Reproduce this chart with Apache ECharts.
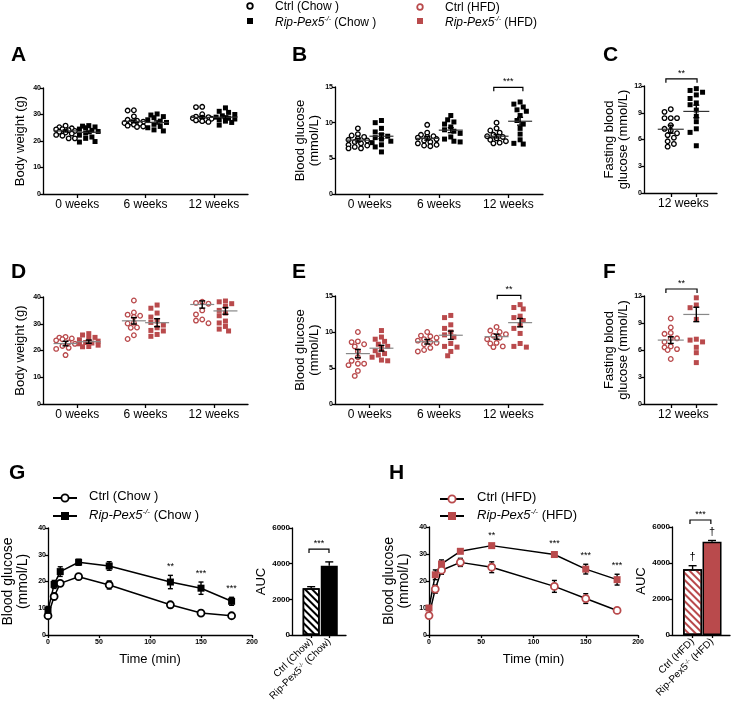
<!DOCTYPE html>
<html>
<head>
<meta charset="utf-8">
<script src="https://cdn.jsdelivr.net/npm/echarts@6/dist/echarts.min.js"></script>
<style>
* { padding: 0; margin: 0; }
#main { width: 731px; height: 706px; background: #fff; }
</style>
</head>
<body>
<div id="main"></div>
<script>
const FONT = 'Liberation Sans, Arial, sans-serif';
const RED = '#b94a4c';

// ---- data ----
const weekLabels = ['0 weeks', '6 weeks', '12 weeks'];

// A: body weight, chow
const bwCtrlChow = [
  [25.8, 25.2, 24.8, 24.5, 24.4, 24.1, 23.8, 23.5, 23.2, 22.8, 22.3, 22.0, 21.0, 21.0],
  [31.6, 31.5, 29.3, 28.0, 27.7, 27.3, 27.0, 26.8, 26.5, 26.2, 25.8, 25.5, 25.3],
  [32.9, 32.8, 30.1, 29.2, 29.0, 28.8, 28.6, 28.4, 28.2, 28.0, 27.8, 27.5, 27.2]
];
const bwKoChow = [
  [25.8, 25.6, 25.3, 25.0, 24.5, 24.0, 23.6, 23.0, 22.2, 21.5, 21.0, 19.8, 19.6],
  [30.2, 29.8, 29.2, 28.8, 28.0, 27.5, 27.0, 26.3, 25.5, 25.0, 24.2, 23.8],
  [32.5, 31.2, 30.8, 30.0, 29.5, 29.0, 28.6, 28.3, 28.0, 27.5, 27.0, 26.0]
];
const bwCtrlChowMean = [23.8, 27.4, 28.9];
const bwCtrlChowSem = [0.4, 0.5, 0.4];
const bwKoChowMean = [23.3, 27.0, 29.0];
const bwKoChowSem = [0.5, 0.6, 0.5];

// B: blood glucose, chow
const bgCtrlChow = [
  [9.2, 8.4, 8.2, 8.0, 7.8, 7.6, 7.5, 7.3, 7.1, 6.9, 6.8, 6.6, 6.4, 6.4],
  [9.7, 8.6, 8.3, 8.1, 8.0, 7.9, 7.7, 7.5, 7.3, 7.1, 6.9, 6.8, 6.7],
  [10.0, 9.2, 8.9, 8.6, 8.3, 8.1, 8.0, 7.8, 7.6, 7.4, 7.2, 7.1]
];
const bgKoChow = [
  [10.3, 10.0, 9.2, 8.7, 8.3, 8.1, 7.9, 7.7, 7.4, 7.2, 6.9, 6.6, 5.9],
  [11.0, 10.4, 10.1, 9.8, 9.4, 9.0, 8.8, 8.5, 8.0, 7.7, 7.4, 7.3],
  [12.9, 12.6, 12.2, 11.8, 11.6, 11.0, 10.3, 9.8, 9.2, 8.4, 7.6, 7.1, 7.0]
];
const bgCtrlChowMean = [7.55, 7.8, 8.1];
const bgCtrlChowSem = [0.25, 0.25, 0.25];
const bgKoChowMean = [8.1, 8.95, 10.2];
const bgKoChowSem = [0.35, 0.35, 0.55];

// C: fasting blood glucose, chow, 12 weeks
const fbgCtrlChow = [9.4, 9.1, 8.4, 8.4, 8.4, 7.6, 7.2, 7.0, 6.7, 6.5, 6.2, 5.8, 5.5, 5.2];
const fbgKoChow = [11.7, 11.5, 11.3, 11.0, 10.6, 10.1, 9.9, 9.3, 8.6, 8.0, 7.2, 6.8, 5.3];
const fbgChowMean = [7.15, 9.15];
const fbgChowSem = [0.45, 0.7];

// D: body weight, HFD
const bwCtrlHfd = [
  [25.1, 24.8, 24.5, 24.2, 23.8, 23.0, 22.5, 21.7, 21.0, 20.6, 18.3],
  [38.7, 34.2, 33.4, 33.0, 32.6, 30.4, 30.1, 28.6, 28.5, 25.7, 24.3],
  [38.2, 37.8, 37.5, 35.0, 33.5, 31.6, 31.2, 30.2]
];
const bwKoHfd = [
  [26.3, 25.8, 24.9, 24.5, 24.0, 23.5, 23.0, 22.8, 22.5, 22.0, 21.5, 21.4],
  [37.0, 35.8, 34.0, 32.5, 31.0, 30.5, 29.5, 28.5, 27.5, 27.3, 26.0, 25.3],
  [38.5, 38.2, 37.5, 36.5, 35.0, 34.0, 33.0, 31.0, 30.3, 29.0, 28.0, 27.3]
];
const bwCtrlHfdMean = [22.6, 31.1, 37.2];
const bwCtrlHfdSem = [0.85, 1.2, 1.35];
const bwKoHfdMean = [23.3, 30.4, 34.8];
const bwKoHfdSem = [0.6, 1.5, 1.25];

// E: blood glucose, HFD
const bgCtrlHfd = [
  [10.0, 8.7, 8.6, 8.3, 8.0, 7.3, 6.5, 6.0, 5.6, 5.6, 5.4, 4.6, 3.9],
  [10.0, 9.5, 9.4, 9.2, 9.0, 8.8, 8.6, 8.5, 8.3, 7.8, 7.5, 7.3],
  [10.7, 10.2, 10.0, 9.7, 9.5, 9.2, 9.0, 8.5, 8.4, 8.0, 7.9]
];
const bgKoHfd = [
  [10.2, 9.3, 9.0, 8.7, 8.3, 8.0, 7.7, 7.4, 7.0, 6.8, 6.5, 6.1, 6.0],
  [12.3, 12.0, 11.0, 10.5, 10.0, 9.6, 9.3, 8.4, 8.0, 7.9, 7.3, 6.7],
  [13.8, 13.4, 13.2, 12.2, 12.0, 11.6, 11.0, 10.5, 9.8, 8.4, 8.0, 7.9]
];
const bgCtrlHfdMean = [7.0, 8.65, 9.35];
const bgCtrlHfdSem = [0.58, 0.32, 0.35];
const bgKoHfdMean = [7.75, 9.55, 11.3];
const bgKoHfdSem = [0.4, 0.58, 0.58];

// F: fasting blood glucose, HFD
const fbgCtrlHfd = [9.5, 8.5, 7.9, 7.8, 7.3, 7.3, 6.9, 6.4, 6.3, 6.1, 6.0, 5.0];
const fbgKoHfd = [11.8, 11.0, 10.7, 9.4, 7.2, 7.1, 6.9, 6.3, 5.7, 4.6];
const fbgHfdMean = [7.1, 9.95];
const fbgHfdSem = [0.37, 0.8];

// G / H: GTT
const gttTimes = [0, 6, 12, 30, 60, 120, 150, 180];
const gttCtrlChow = [7.2, 14.4, 19.3, 21.8, 18.7, 11.3, 8.2, 7.2];
const gttCtrlChowSem = [0.4, 1.2, 1.0, 1.0, 1.5, 0.6, 0.4, 0.3];
const gttKoChow = [9.2, 18.9, 23.7, 27.2, 25.8, 19.8, 17.5, 12.6];
const gttKoChowSem = [1.5, 1.5, 1.8, 1.1, 1.6, 2.5, 2.3, 1.5];
const gttCtrlHfd = [7.2, 17.0, 24.0, 26.9, 25.1, 18.0, 13.5, 9.1];
const gttCtrlHfdSem = [0.4, 1.5, 1.5, 1.5, 2.0, 2.2, 1.8, 0.5];
const gttKoHfd = [10.0, 22.3, 26.3, 31.0, 33.1, 29.8, 24.4, 20.5];
const gttKoHfdSem = [0.8, 1.8, 1.5, 0.5, 0.5, 0.8, 1.8, 2.0];
const sigChow = [[120, '**'], [150, '***'], [180, '***']];
const sigHfd = [[60, '**'], [120, '***'], [150, '***'], [180, '***']];

// AUC
const aucChow = [2620, 3880];
const aucChowSem = [90, 220];
const aucHfd = [3650, 5180];
const aucHfdSem = [200, 70];

// ---- layout ----
const grids = [
  {left: 43, top: 88, width: 205, height: 106},   // A
  {left: 335, top: 87, width: 208, height: 107},  // B
  {left: 644, top: 86, width: 73, height: 107},   // C
  {left: 43, top: 297, width: 205, height: 107},  // D
  {left: 335, top: 296, width: 208, height: 108}, // E
  {left: 644, top: 296, width: 73, height: 108},  // F
  {left: 43, top: 528, width: 209, height: 107},  // G
  {left: 292, top: 528, width: 54, height: 107},  // G AUC
  {left: 429, top: 527, width: 209, height: 108}, // H
  {left: 672, top: 527, width: 58, height: 108}   // H AUC
];
const ctrlPos = [0.33, 1.33, 2.33];
const koPos = [0.67, 1.67, 2.67];
const aucPos = [0.355, 0.69];

const axLine = {show: true, onZero: false, lineStyle: {color: '#000', width: 1.3}};
const tickStyle = {color: '#000', width: 1.3};

function yAx(gi, max, interval, name, gap, size) {
  return {
    type: 'value', gridIndex: gi, min: 0, max: max, interval: interval,
    axisLine: axLine,
    axisTick: {show: true, length: 3, lineStyle: tickStyle},
    axisLabel: {fontSize: gi === 7 || gi === 9 ? 8 : 7, fontWeight: 'bold', color: '#000', margin: 2,
      fontFamily: FONT, formatter: v => String(v)},
    splitLine: {show: false},
    name: name, nameLocation: 'middle', nameGap: gap, nameRotate: 90,
    nameTextStyle: {fontSize: size || 13, color: '#000', fontFamily: FONT, lineHeight: size ? size + 1 : 14}
  };
}

function xCat(gi, ticks, labels, fmt) {
  return {
    type: 'value', gridIndex: gi, min: 0, max: 3,
    axisLine: axLine,
    axisTick: {show: true, length: 4, customValues: ticks, lineStyle: tickStyle},
    axisLabel: {customValues: labels, formatter: fmt, fontSize: 12, color: '#000', margin: 5, fontFamily: FONT},
    splitLine: {show: false}
  };
}

function xTime(gi) {
  return {
    type: 'value', gridIndex: gi, min: 0, max: 200, interval: 50,
    axisLine: axLine,
    axisTick: {show: true, length: 3, lineStyle: tickStyle},
    axisLabel: {fontSize: 7, fontWeight: 'bold', color: '#000', margin: 4, fontFamily: FONT},
    splitLine: {show: false},
    name: 'Time (min)', nameLocation: 'middle', nameGap: 18,
    nameTextStyle: {fontSize: 13, color: '#000', fontFamily: FONT}
  };
}

const supRich = {
  n: {fontSize: 10, color: '#000', fontFamily: FONT},
  s: {fontSize: 6, color: '#000', fontFamily: FONT, verticalAlign: 'top', lineHeight: 8}
};

function xAuc(gi, diet) {
  return {
    type: 'value', gridIndex: gi, min: 0, max: 1,
    axisLine: axLine,
    axisTick: {show: true, length: 3, customValues: aucPos, lineStyle: tickStyle},
    axisLabel: {
      customValues: aucPos, rotate: 45, margin: 5, rich: supRich,
      formatter: v => v < 0.5 ? '{n|Ctrl (' + diet + ')}' : '{n|Rip-Pex5}{s|-/-}{n| (' + diet + ')}'
    },
    splitLine: {show: false}
  };
}

// deterministic, bounded beeswarm spread (px) around a group centre
function swarm(vals, center, gi, ymax, d, maxOff) {
  const g = grids[gi];
  const pxX = g.width / 3, pxY = g.height / ymax;
  const placed = [], out = [];
  const order = vals.map((v, i) => i).sort((a, b) => vals[b] - vals[a]);
  const step = d * 0.6;
  const n = Math.floor(maxOff / step);
  for (const i of order) {
    const y = vals[i] * pxY;
    let best = 0, bestD = -1;
    for (let k = 0; k <= 2 * n; k++) {
      const cand = (k % 2 === 1 ? -1 : 1) * Math.ceil(k / 2) * step;
      const md = placed.reduce((m, p) => Math.min(m, Math.hypot(p[0] - cand, p[1] - y)), 1e9);
      if (md >= d) { best = cand; bestD = md; break; }
      if (md > bestD) { bestD = md; best = cand; }
    }
    placed.push([best, y]);
    out.push([center + best / pxX, vals[i]]);
  }
  return out;
}

function meanSem(gi, centers, means, sems, lineCol, errCol, hw) {
  return {
    type: 'custom', xAxisIndex: gi, yAxisIndex: gi, z: 5, silent: true,
    data: centers.map((c, i) => [c, means[i], sems[i]]),
    renderItem: (params, api) => {
      const x = api.value(0), m = api.value(1), s = api.value(2);
      const p = api.coord([x, m]), t = api.coord([x, m + s]), b = api.coord([x, m - s]);
      const st = {stroke: errCol, lineWidth: 1.4};
      return {type: 'group', children: [
        {type: 'line', shape: {x1: p[0] - hw, y1: p[1], x2: p[0] + hw, y2: p[1]}, style: {stroke: lineCol, lineWidth: 1.2}},
        {type: 'line', shape: {x1: p[0], y1: t[1], x2: p[0], y2: b[1]}, style: st},
        {type: 'line', shape: {x1: p[0] - 3, y1: t[1], x2: p[0] + 3, y2: t[1]}, style: st},
        {type: 'line', shape: {x1: p[0] - 3, y1: b[1], x2: p[0] + 3, y2: b[1]}, style: st}
      ]};
    }
  };
}

function errBars(gi, xs, means, sems, upOnly, cap) {
  return {
    type: 'custom', xAxisIndex: gi, yAxisIndex: gi, z: 2, silent: true,
    data: xs.map((x, i) => [x, means[i], sems[i]]),
    renderItem: (params, api) => {
      const x = api.value(0), m = api.value(1), s = api.value(2);
      const t = api.coord([x, m + s]), b = api.coord([x, upOnly ? m : m - s]);
      const st = {stroke: '#000', lineWidth: 1.4};
      const ch = [
        {type: 'line', shape: {x1: t[0], y1: t[1], x2: t[0], y2: b[1]}, style: st},
        {type: 'line', shape: {x1: t[0] - cap, y1: t[1], x2: t[0] + cap, y2: t[1]}, style: st}
      ];
      if (!upOnly) ch.push({type: 'line', shape: {x1: b[0] - cap, y1: b[1], x2: b[0] + cap, y2: b[1]}, style: st});
      return {type: 'group', children: ch};
    }
  };
}

function bracket(gi, x1, x2, y, text) {
  return {
    type: 'custom', xAxisIndex: gi, yAxisIndex: gi, z: 6, silent: true, clip: false,
    data: [[x1, y]],
    renderItem: (params, api) => {
      const a = api.coord([x1, y]), b = api.coord([x2, y]);
      return {type: 'group', children: [
        {type: 'polyline', shape: {points: [[a[0], a[1] + 4], [a[0], a[1]], [b[0], b[1]], [b[0], b[1] + 4]]},
          style: {stroke: '#000', lineWidth: 1.2, fill: null}},
        {type: 'text', x: (a[0] + b[0]) / 2, y: a[1] - 1,
          style: {text: text, fontSize: 9, fontFamily: FONT, fill: '#000', align: 'center', verticalAlign: 'bottom'}}
      ]};
    }
  };
}

function marks(gi, xs, ys, texts, gap, size) {
  return {
    type: 'custom', xAxisIndex: gi, yAxisIndex: gi, z: 6, silent: true, clip: false,
    data: xs.map((x, i) => [x, ys[i]]),
    renderItem: (params, api) => {
      const p = api.coord([api.value(0), api.value(1)]);
      return {type: 'text', x: p[0], y: p[1] - gap,
        style: {text: texts[params.dataIndex], fontSize: size, fontFamily: FONT, fill: '#000', align: 'center', verticalAlign: 'bottom'}};
    }
  };
}

function dots(gi, groups, centers, ymax, col, open) {
  const data = [];
  groups.forEach((vals, i) => swarm(vals, centers[i], gi, ymax, 5.2, 10).forEach(p => data.push(p)));
  return {
    type: 'scatter', xAxisIndex: gi, yAxisIndex: gi, z: 3, silent: true,
    symbol: open ? 'circle' : 'rect', symbolSize: open ? 4.6 : 5,
    itemStyle: open ? {color: '#fff', borderColor: col, borderWidth: 1.3, opacity: 1} : {color: col, opacity: 1},
    data: data
  };
}

function lookup(times, vals, sems, t) {
  const i = times.indexOf(t);
  return vals[i] + sems[i];
}

const weekFmt = v => weekLabels[Math.floor(v)];
const wkTicks = [0.5, 1.5, 2.5];
const cTicks = [1.1, 2.15];
const hatch = col => ({symbol: 'rect', symbolSize: 1, color: col, dashArrayX: [1, 0], dashArrayY: [1.6, 2.6], rotation: Math.PI / 4});

const series = [
  // A
  dots(0, bwCtrlChow, ctrlPos, 40, '#000', true),
  dots(0, bwKoChow, koPos, 40, '#000', false),
  meanSem(0, ctrlPos, bwCtrlChowMean, bwCtrlChowSem, '#333', '#000', 12),
  meanSem(0, koPos, bwKoChowMean, bwKoChowSem, '#333', '#000', 12),
  // B
  dots(1, bgCtrlChow, ctrlPos, 15, '#000', true),
  dots(1, bgKoChow, koPos, 15, '#000', false),
  meanSem(1, ctrlPos, bgCtrlChowMean, bgCtrlChowSem, '#333', '#000', 12),
  meanSem(1, koPos, bgKoChowMean, bgKoChowSem, '#333', '#000', 12),
  bracket(1, 2.29, 2.71, 14.95, '***'),
  // C
  dots(2, [fbgCtrlChow], [cTicks[0]], 12, '#000', true),
  dots(2, [fbgKoChow], [cTicks[1]], 12, '#000', false),
  meanSem(2, cTicks, fbgChowMean, fbgChowSem, '#333', '#000', 13),
  bracket(2, 0.9, 2.18, 12.8, '**'),
  // D
  dots(3, bwCtrlHfd, ctrlPos, 40, RED, true),
  dots(3, bwKoHfd, koPos, 40, RED, false),
  meanSem(3, ctrlPos, bwCtrlHfdMean, bwCtrlHfdSem, '#888', '#000', 12),
  meanSem(3, koPos, bwKoHfdMean, bwKoHfdSem, '#888', '#000', 12),
  // E
  dots(4, bgCtrlHfd, ctrlPos, 15, RED, true),
  dots(4, bgKoHfd, koPos, 15, RED, false),
  meanSem(4, ctrlPos, bgCtrlHfdMean, bgCtrlHfdSem, '#888', '#000', 12),
  meanSem(4, koPos, bgKoHfdMean, bgKoHfdSem, '#888', '#000', 12),
  bracket(4, 2.34, 2.68, 15.1, '**'),
  // F
  dots(5, [fbgCtrlHfd], [cTicks[0]], 12, RED, true),
  dots(5, [fbgKoHfd], [cTicks[1]], 12, RED, false),
  meanSem(5, cTicks, fbgHfdMean, fbgHfdSem, '#888', '#000', 13),
  bracket(5, 0.9, 2.18, 12.78, '**'),
  // G
  errBars(6, gttTimes, gttCtrlChow, gttCtrlChowSem, false, 2.5),
  errBars(6, gttTimes, gttKoChow, gttKoChowSem, false, 2.5),
  {type: 'line', xAxisIndex: 6, yAxisIndex: 6, z: 3, silent: true, data: gttTimes.map((t, i) => [t, gttCtrlChow[i]]),
    symbol: 'circle', symbolSize: 7, lineStyle: {color: '#000', width: 1.5},
    itemStyle: {color: '#fff', borderColor: '#000', borderWidth: 1.8}},
  {type: 'line', xAxisIndex: 6, yAxisIndex: 6, z: 3, silent: true, data: gttTimes.map((t, i) => [t, gttKoChow[i]]),
    symbol: 'rect', symbolSize: 7, lineStyle: {color: '#000', width: 1.5},
    itemStyle: {color: '#000'}},
  marks(6, sigChow.map(s => s[0]), sigChow.map(s => lookup(gttTimes, gttKoChow, gttKoChowSem, s[0])), sigChow.map(s => s[1]), 4, 9),
  // G AUC
  {type: 'bar', xAxisIndex: 7, yAxisIndex: 7, barWidth: 17, silent: true,
    data: [
      {value: [aucPos[0], aucChow[0]], itemStyle: {color: '#fff', borderColor: '#000', borderWidth: 1.5, decal: hatch('#000')}},
      {value: [aucPos[1], aucChow[1]], itemStyle: {color: '#000', borderColor: '#000', borderWidth: 1.5}}
    ]},
  errBars(7, aucPos, aucChow, aucChowSem, true, 4),
  bracket(7, 0.315, 0.685, 4820, '***'),
  // H
  errBars(8, gttTimes, gttCtrlHfd, gttCtrlHfdSem, false, 2.5),
  errBars(8, gttTimes, gttKoHfd, gttKoHfdSem, false, 2.5),
  {type: 'line', xAxisIndex: 8, yAxisIndex: 8, z: 3, silent: true, data: gttTimes.map((t, i) => [t, gttCtrlHfd[i]]),
    symbol: 'circle', symbolSize: 7, lineStyle: {color: '#000', width: 1.5},
    itemStyle: {color: '#fff', borderColor: RED, borderWidth: 1.8}},
  {type: 'line', xAxisIndex: 8, yAxisIndex: 8, z: 3, silent: true, data: gttTimes.map((t, i) => [t, gttKoHfd[i]]),
    symbol: 'rect', symbolSize: 7, lineStyle: {color: '#000', width: 1.5},
    itemStyle: {color: RED}},
  marks(8, sigHfd.map(s => s[0]), sigHfd.map(s => lookup(gttTimes, gttKoHfd, gttKoHfdSem, s[0])), sigHfd.map(s => s[1]), 4, 9),
  // H AUC
  {type: 'bar', xAxisIndex: 9, yAxisIndex: 9, barWidth: 19, silent: true,
    data: [
      {value: [aucPos[0], aucHfd[0]], itemStyle: {color: '#fff', borderColor: '#000', borderWidth: 1.5, decal: hatch(RED)}},
      {value: [aucPos[1], aucHfd[1]], itemStyle: {color: RED, borderColor: '#000', borderWidth: 1.5}}
    ]},
  errBars(9, aucPos, aucHfd, aucHfdSem, true, 4),
  marks(9, aucPos, aucHfd.map((v, i) => v + aucHfdSem[i]), ['\u2020', '\u2020'], 3, 11),
  bracket(9, 0.31, 0.67, 6390, '***')
];

const xAxes = [
  xCat(0, wkTicks, wkTicks, weekFmt),
  xCat(1, wkTicks, wkTicks, weekFmt),
  xCat(2, cTicks, [1.62], () => '12 weeks'),
  xCat(3, wkTicks, wkTicks, weekFmt),
  xCat(4, wkTicks, wkTicks, weekFmt),
  xCat(5, cTicks, [1.62], () => '12 weeks'),
  xTime(6),
  xAuc(7, 'Chow'),
  xTime(8),
  xAuc(9, 'HFD')
];

const yAxes = [
  yAx(0, 40, 10, 'Body weight (g)', 16),
  yAx(1, 15, 5, 'Blood glucose\n(mmol/L)', 12),
  yAx(2, 12, 3, 'Fasting blood\nglucose (mmol/L)', 14),
  yAx(3, 40, 10, 'Body weight (g)', 16),
  yAx(4, 15, 5, 'Blood glucose\n(mmol/L)', 12),
  yAx(5, 12, 3, 'Fasting blood\nglucose (mmol/L)', 14),
  yAx(6, 40, 10, 'Blood glucose\n(mmol/L)', 17, 14),
  yAx(7, 6000, 2000, 'AUC', 22),
  yAx(8, 40, 10, 'Blood glucose\n(mmol/L)', 17, 14),
  yAx(9, 6000, 2000, 'AUC', 22)
];

// ---- legends and panel letters ----
const legRich = {
  n: {fontSize: 12, fill: '#000', fontFamily: FONT, lineHeight: 14},
  i: {fontSize: 12, fill: '#000', fontFamily: FONT, fontStyle: 'italic', lineHeight: 14},
  s: {fontSize: 7, fill: '#000', fontFamily: FONT, fontStyle: 'italic', verticalAlign: 'top', lineHeight: 8}
};
function legText(x, y, txt, size) {
  const rich = JSON.parse(JSON.stringify(legRich));
  if (size) { rich.n.fontSize = size; rich.i.fontSize = size; rich.s.fontSize = size - 5; }
  return {type: 'text', left: x, top: y, style: {text: txt, rich: rich, fontFamily: FONT, fontSize: size || 12}};
}
function letter(ch, x, y) {
  return {type: 'text', left: x, top: y, style: {text: ch, fontSize: 21, fontWeight: 'bold', fontFamily: FONT, fill: '#000'}};
}
function lineLeg(x, y, symbol, fill, stroke) {
  const mk = symbol === 'circle'
    ? {type: 'circle', shape: {cx: x + 12, cy: y, r: 3.6}, style: {fill: fill, stroke: stroke, lineWidth: 1.8}}
    : {type: 'rect', shape: {x: x + 8, y: y - 4, width: 8, height: 8}, style: {fill: fill}};
  return [
    {type: 'line', shape: {x1: x, y1: y, x2: x + 24, y2: y}, style: {stroke: '#000', lineWidth: 2}},
    mk
  ];
}

const graphics = [
  {type: 'circle', shape: {cx: 250, cy: 6, r: 2.8}, style: {fill: '#fff', stroke: '#000', lineWidth: 1.8}},
  legText(275, 1, '{n|Ctrl (Chow )}'),
  {type: 'rect', shape: {x: 247, y: 18, width: 6, height: 6}, style: {fill: '#000'}},
  legText(275, 16, '{i|Rip-Pex5}{s|-/-}{n| (Chow )}'),
  {type: 'circle', shape: {cx: 420, cy: 7, r: 2.8}, style: {fill: '#fff', stroke: RED, lineWidth: 1.8}},
  legText(445, 2, '{n|Ctrl (HFD)}'),
  {type: 'rect', shape: {x: 417, y: 18, width: 6, height: 6}, style: {fill: RED}},
  legText(445, 16, '{i|Rip-Pex5}{s|-/-}{n| (HFD)}'),
  letter('A', 11, 45), letter('B', 292, 45), letter('C', 603, 45),
  letter('D', 11, 262), letter('E', 292, 262), letter('F', 603, 262),
  letter('G', 9, 463), letter('H', 389, 463),
  ...lineLeg(53, 498, 'circle', '#fff', '#000'),
  legText(89, 490, '{n|Ctrl (Chow )}', 13),
  ...lineLeg(53, 516, 'rect', '#000'),
  legText(89, 508, '{i|Rip-Pex5}{s|-/-}{n| (Chow )}', 13),
  ...lineLeg(440, 499, 'circle', '#fff', RED),
  legText(477, 491, '{n|Ctrl (HFD)}', 13),
  ...lineLeg(440, 516, 'rect', RED),
  legText(477, 508, '{i|Rip-Pex5}{s|-/-}{n| (HFD)}', 13)
];

const chart = echarts.init(document.getElementById('main'), null, {renderer: 'canvas'});
chart.setOption({
  animation: false,
  backgroundColor: '#fff',
  textStyle: {fontFamily: FONT},
  grid: grids,
  xAxis: xAxes,
  yAxis: yAxes,
  series: series,
  graphic: graphics
});
</script>
</body>
</html>
